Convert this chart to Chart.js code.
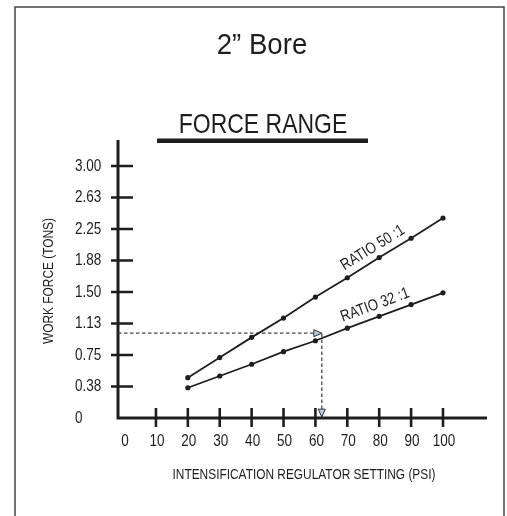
<!DOCTYPE html>
<html>
<head>
<meta charset="utf-8">
<script src="https://cdn.jsdelivr.net/npm/chart.js@4.4.1/dist/chart.umd.min.js"></script>
<style>
  body { margin: 0; background: #fff; }
  #wrap { width: 507px; height: 516px; }
</style>
</head>
<body>
<div id="wrap"><canvas id="myChart"></canvas></div>
<script>
// regulator setting (psi)
var settings = [20, 30, 40, 50, 60, 70, 80, 90, 100];
// work force (tons) per ratio
var ratio50 = [0.48, 0.72, 0.96, 1.19, 1.44, 1.67, 1.91, 2.14, 2.38];
var ratio32 = [0.36, 0.50, 0.64, 0.79, 0.92, 1.07, 1.21, 1.35, 1.49];
var seriesNames = ["RATIO 50 :1", "RATIO 32 :1"];
// dashed reading example (60 psi -> ~1 ton)
var guideX = [-1.9, 62, 62];
var guideY = [1.01, 1.01, 0.01];
// axis ticks
var xTickValues = [0, 10, 20, 30, 40, 50, 60, 70, 80, 90, 100];
var xTickLabels = ["0", "10", "20", "30", "40", "50", "60", "70", "80", "90", "100"];
var yTickValues = [0, 0.375, 0.75, 1.125, 1.5, 1.875, 2.25, 2.625, 3.0];
var yTickLabels = ["0", "0.38", "0.75", "1.13", "1.50", "1.88", "2.25", "2.63", "3.00"];

var sans = "'Liberation Sans', Arial, sans-serif";
var ink = "#1e1e1e";

function toPoints(xs, ys) {
  var pts = [];
  for (var i = 0; i < xs.length; i++) {
    pts.push({ x: xs[i], y: ys[i] });
  }
  return pts;
}

// no condensed font installed, so squeeze Liberation Sans sideways
function narrowText(ctx, text, x, y, size, squeeze, align) {
  ctx.save();
  ctx.translate(x, y);
  ctx.scale(squeeze, 1);
  ctx.font = size + "px " + sans;
  ctx.textAlign = align || "center";
  ctx.fillText(text, 0, 0);
  ctx.restore();
}

// axes, frame and all the fixed text
var decorPlugin = {
  id: "decor",
  beforeDatasetsDraw: function(chart) {
    var ctx = chart.ctx;
    var area = chart.chartArea;
    var xs = chart.scales.x;
    var ys = chart.scales.y;
    ctx.save();
    // frame
    ctx.strokeStyle = "#444";
    ctx.lineWidth = 1.5;
    ctx.beginPath();
    ctx.moveTo(15, 530);
    ctx.lineTo(15, 7);
    ctx.lineTo(504, 7);
    ctx.lineTo(504, 530);
    ctx.stroke();

    // titles
    ctx.fillStyle = ink;
    ctx.textBaseline = "alphabetic";
    narrowText(ctx, "2\u201d Bore", 262, 54, 30, 0.92);
    narrowText(ctx, "FORCE RANGE", 263, 133, 28, 0.82);
    ctx.fillRect(157, 138.5, 211, 4.5);

    ctx.textBaseline = "middle";
    narrowText(ctx, "INTENSIFICATION REGULATOR SETTING (PSI)", 304, 475, 14.5, 0.82);
    ctx.save();
    ctx.translate(49, 281);
    ctx.rotate(-Math.PI / 2);
    narrowText(ctx, "WORK FORCE (TONS)", 0, 0, 14.5, 0.82);
    ctx.restore();

    // tick labels, placed by the scales
    xTickValues.forEach(function(v, i) {
      var px = xs.getPixelForValue(v);
      narrowText(ctx, xTickLabels[i], px + 1, 441, 16.5, 0.82);
    });
    yTickValues.forEach(function(v, i) {
      var py = ys.getPixelForValue(v);
      narrowText(ctx, yTickLabels[i], 75, py, 16.5, 0.82, "left");
    });

    // axis lines
    ctx.strokeStyle = ink;
    ctx.lineWidth = 3;
    ctx.beginPath();
    ctx.moveTo(area.left, area.top);
    ctx.lineTo(area.left, area.bottom);
    ctx.lineTo(area.right, area.bottom);
    ctx.stroke();

    // tick marks crossing the axes
    ctx.lineWidth = 2.6;
    ctx.beginPath();
    yTickValues.forEach(function(v) {
      if (v === 0) return;
      var py = ys.getPixelForValue(v);
      ctx.moveTo(area.left - 7, py);
      ctx.lineTo(area.left + 15, py);
    });
    xTickValues.forEach(function(v) {
      if (v === 0) return;
      var px = xs.getPixelForValue(v);
      ctx.moveTo(px, area.bottom - 10);
      ctx.lineTo(px, area.bottom + 9);
    });
    ctx.stroke();
    ctx.restore();
  },
  afterDatasetsDraw: function(chart) {
    var ctx = chart.ctx;
    ctx.save();
    // arrowheads at the ends of the dashed guide
    var g = chart.getDatasetMeta(2).data;
    var tip1 = g[1];
    var tip2 = g[2];
    ctx.fillStyle = "#b9c9e2";
    ctx.strokeStyle = "#333";
    ctx.lineWidth = 1;
    ctx.beginPath();
    ctx.moveTo(tip1.x, tip1.y);
    ctx.lineTo(tip1.x - 8, tip1.y - 3.5);
    ctx.lineTo(tip1.x - 8, tip1.y + 3.5);
    ctx.closePath();
    ctx.fill();
    ctx.stroke();
    ctx.beginPath();
    ctx.moveTo(tip2.x, tip2.y);
    ctx.lineTo(tip2.x - 3.5, tip2.y - 8);
    ctx.lineTo(tip2.x + 3.5, tip2.y - 8);
    ctx.closePath();
    ctx.fill();
    ctx.stroke();

    // series labels along the lines
    ctx.fillStyle = ink;
    ctx.textBaseline = "middle";
    [0, 1].forEach(function(di) {
      var pts = chart.getDatasetMeta(di).data;
      var a = pts[5];
      var b = pts[7];
      var t = 0.5;
      var cx = a.x + (b.x - a.x) * t;
      var cy = a.y + (b.y - a.y) * t;
      var ang = Math.atan2(b.y - a.y, b.x - a.x);
      ctx.save();
      ctx.translate(cx, cy);
      ctx.rotate(ang);
      narrowText(ctx, seriesNames[di], 0, -12, 16, 0.82);
      ctx.restore();
    });
    ctx.restore();
  }
};

var ctx = document.getElementById("myChart");
var myChart = new Chart(ctx, {
  type: "line",
  data: {
    datasets: [{
      label: seriesNames[0],
      data: toPoints(settings, ratio50),
      borderColor: ink,
      backgroundColor: ink,
      borderWidth: 1.8,
      pointRadius: 2.6,
      pointBorderWidth: 0
    }, {
      label: seriesNames[1],
      data: toPoints(settings, ratio32),
      borderColor: ink,
      backgroundColor: ink,
      borderWidth: 1.8,
      pointRadius: 2.6,
      pointBorderWidth: 0
    }, {
      label: "guide",
      data: toPoints(guideX, guideY),
      borderColor: "#444",
      borderWidth: 1.3,
      borderDash: [3.5, 2.5],
      pointRadius: 0
    }]
  },
  options: {
    responsive: true,
    maintainAspectRatio: false,
    animation: false,
    layout: { padding: { left: 75, top: 140, right: 20, bottom: 0 } },
    plugins: {
      legend: { display: false },
      tooltip: { enabled: false }
    },
    scales: {
      x: {
        type: "linear",
        min: -1.9,
        max: 113.8,
        border: { display: false },
        grid: { display: false, drawTicks: false },
        afterBuildTicks: function(scale) {
          scale.ticks = xTickValues.map(function(v) { return { value: v }; });
        },
        afterFit: function(scale) { scale.height = 98; },
        ticks: { display: false }
      },
      y: {
        type: "linear",
        min: 0,
        max: 3.31,
        border: { display: false },
        grid: { display: false, drawTicks: false },
        afterBuildTicks: function(scale) {
          scale.ticks = yTickValues.map(function(v) { return { value: v }; });
        },
        afterFit: function(scale) { scale.width = 43; },
        ticks: { display: false }
      }
    }
  },
  plugins: [decorPlugin]
});
</script>
</body>
</html>
